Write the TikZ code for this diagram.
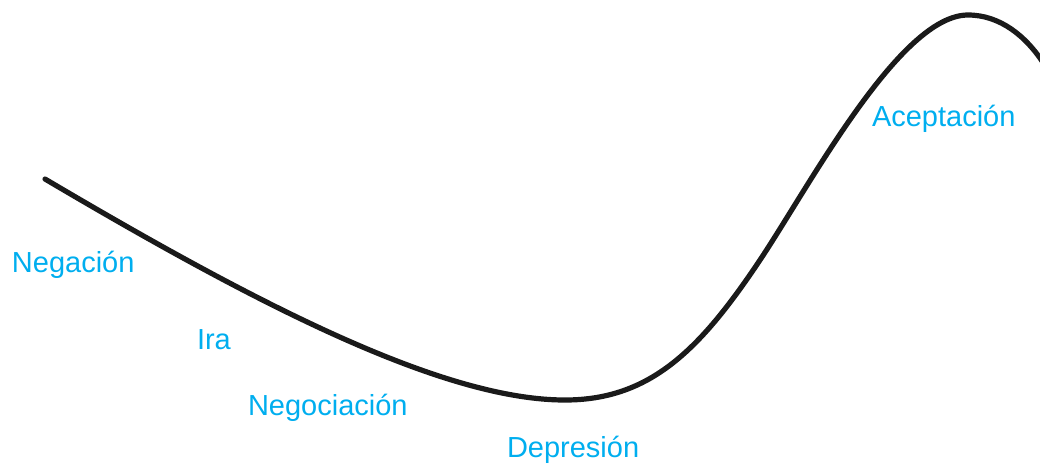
\documentclass[tikz,border=0pt]{standalone}
\usepackage{fontspec}
\setmainfont{Liberation Sans}
\definecolor{lblcyan}{HTML}{00AEEF}
\definecolor{curveink}{HTML}{1A1A1A}
\begin{document}
\begin{tikzpicture}[x=1pt,y=-1pt,
  stage/.style={text=lblcyan,font=\fontsize{29}{33}\selectfont,anchor=base west,inner sep=0pt,outer sep=0pt},
  curve/.style={line width=5.2pt,line cap=round,line join=round,draw=curveink}]
\useasboundingbox (0,0) rectangle (1040,464);
\coordinate (start) at (45,179);
\coordinate (low) at (565,400);
\coordinate (rise) at (760,260);
\coordinate (peak) at (968,15);
\coordinate (tail) at (1044,64);
\begin{scope}
\clip (0,0) rectangle (1040,464);
\draw[curve] (start) .. controls (250,300) and (440,400) .. (low)
  .. controls (650,400) and (700,350) .. (rise)
  .. controls (810,185) and (900,15) .. (peak)
  .. controls (1000,15) and (1026,36) .. (tail);
\end{scope}
\node[stage] (neg) at (12,272) {Negación};
\node[stage] (ira) at (197,349) {Ira};
\node[stage] (nego) at (248,415) {Negociación};
\node[stage] (dep) at (507,457) {Depresión};
\node[stage] (acep) at (872,126) {Aceptación};
\end{tikzpicture}
\end{document}
